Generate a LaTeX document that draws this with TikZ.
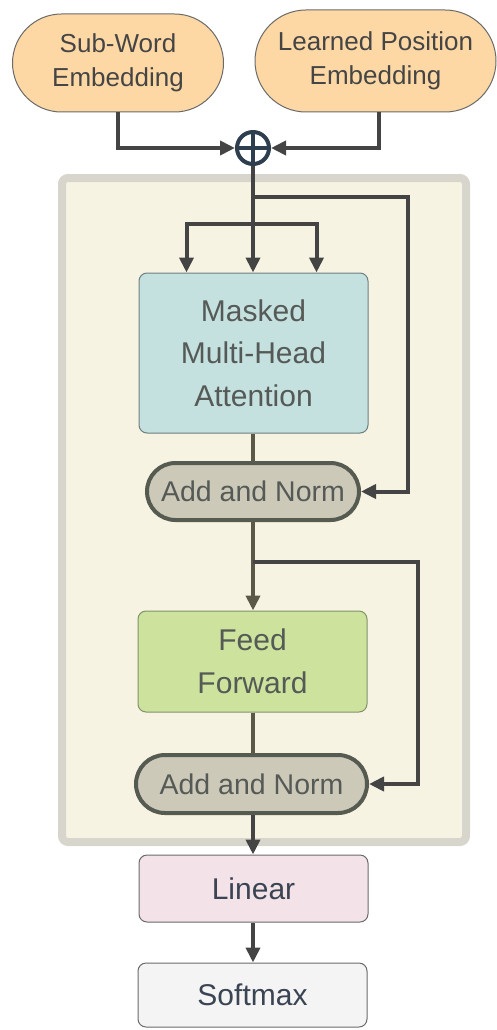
\documentclass[tikz,border=0pt]{standalone}
\usepackage{fontspec}
\setmainfont{Liberation Sans}
\usetikzlibrary{arrows.meta,shapes.misc,calc}
\definecolor{txt}{HTML}{454545}
\definecolor{txtg}{HTML}{555A56}
\definecolor{txtb}{HTML}{3A4452}
\definecolor{ln}{HTML}{444444}
\definecolor{olive}{HTML}{5B5848}
\definecolor{orangef}{HTML}{FDD8A5}
\definecolor{mhaf}{HTML}{C4E0DF}
\definecolor{mhad}{HTML}{6E7F80}
\definecolor{anf}{HTML}{CDC9B9}
\definecolor{and}{HTML}{565B52}
\definecolor{fff}{HTML}{CCE29D}
\definecolor{ffd}{HTML}{7F9568}
\definecolor{linf}{HTML}{F3E3E9}
\definecolor{smf}{HTML}{F4F4F4}
\definecolor{boxd}{HTML}{6A6A6A}
\definecolor{framef}{HTML}{F7F3E2}
\definecolor{framed}{HTML}{D7D5CC}
\definecolor{plusc}{HTML}{2F3E4E}
\tikzset{
  pill/.style={rounded rectangle, draw=boxd, line width=1pt, fill=orangef, text=txt, align=center, inner sep=0pt,
    font=\fontsize{26}{34.5}\selectfont},
  blk/.style={rectangle, rounded corners=8pt, draw=#1, line width=1pt, inner sep=0pt, align=center, text=txtg,
    minimum width=229pt, font=\fontsize{30}{42.5}\selectfont},
  norm/.style={rounded rectangle, draw=and, line width=4pt, fill=anf, text=txtg, inner sep=0pt,
    font=\fontsize{28.5}{32}\selectfont},
  arr/.style={draw=ln, line width=4pt, -{Triangle[length=15pt,width=14pt]}},
  oarr/.style={draw=olive, line width=4pt, -{Triangle[length=15pt,width=14pt]}},
  oln/.style={draw=olive, line width=4pt},
}
\begin{document}
\begin{tikzpicture}[x=1pt,y=-1pt]
\useasboundingbox (0,0) rectangle (496,1030);
\node[rectangle, fill=framef, draw=framed, line width=8pt, rounded corners=6pt, minimum width=404pt, minimum height=664pt] (frame) at (264,510) {};
\node[pill, minimum width=211pt, minimum height=98pt] (sw) at (118,63) {Sub-Word\\Embedding};
\node[pill, minimum width=241pt, minimum height=102pt] (lp) at (375.5,61) {Learned Position\\Embedding};
\node[circle, draw=plusc, line width=4pt, minimum size=32pt, inner sep=0pt] (plus) at (253,148) {};
\draw[plusc, line width=4pt] (plus.north) -- (plus.south) (plus.west) -- (plus.east);
\node[blk=mhad, fill=mhaf, minimum height=160pt] (mha) at (253.5,353) {Masked\\Multi-Head\\Attention};
\node[norm, minimum width=212pt, minimum height=57pt] (an1) at (253,491.5) {Add and Norm};
\node[blk=ffd, fill=fff, minimum height=101pt] (ff) at (252.5,661.5) {Feed\\Forward};
\node[norm, minimum width=231pt, minimum height=58pt] (an2) at (251.5,784) {Add and Norm};
\node[blk=boxd, fill=linf, minimum height=67pt, text=txtb] (lin) at (253.5,888.5) {Linear};
\node[blk=boxd, fill=smf, minimum height=64pt, text=txtb] (sm) at (252.5,995) {Softmax};
% inputs
\draw[arr] (sw.south) |- (plus.west);
\draw[arr] ([xshift=3.5pt]lp.south) |- (plus.east);
% into attention
\coordinate (b1) at (253,197);
\coordinate (b2) at (253,224);
\draw[arr] (plus.south) -- (plus.south |- mha.north);
\draw[arr] (b2) -| ([xshift=-67pt]mha.north);
\draw[arr] (b2) -| ([xshift=63pt]mha.north);
\draw[arr] (b1) -| (408,491.5) -- (an1.east);
\draw[oln] (plus.south |- mha.south) -- (plus.south |- an1.north);
% feed forward
\coordinate (b3) at (253,562);
\draw[oarr] (plus.south |- an1.south) -- (plus.south |- ff.north);
\draw[arr] (b3) -| (418,784) -- (an2.east);
\draw[oln] (plus.south |- ff.south) -- (plus.south |- an2.north);
% output
\draw[arr] (plus.south |- an2.south) -- (plus.south |- lin.north);
\draw[arr] (plus.south |- lin.south) -- (plus.south |- sm.north);
\end{tikzpicture}
\end{document}
